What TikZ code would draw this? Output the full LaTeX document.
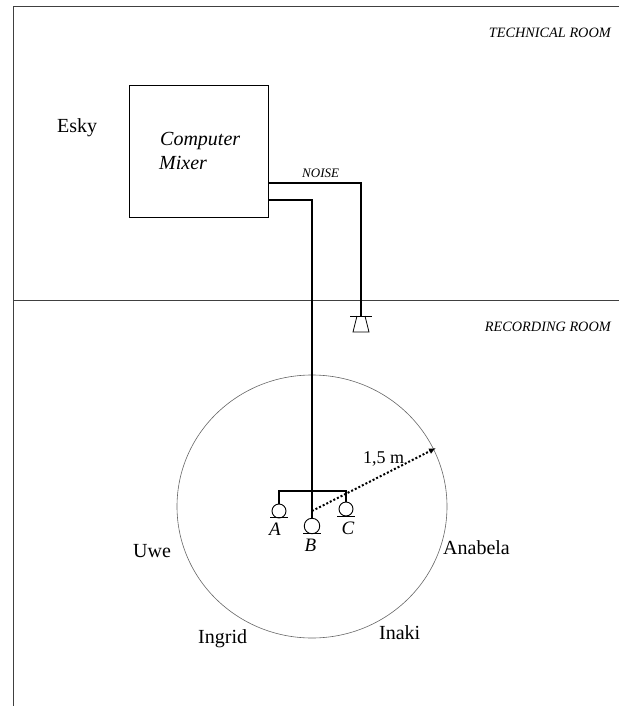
\documentclass[tikz,border=0pt]{standalone}
\usepackage{fontspec}
\setmainfont{Liberation Serif}
\usetikzlibrary{arrows.meta}
\tikzset{
  wall/.style={draw=black!75,line width=1pt},
  wire/.style={draw=black,line width=1.4pt},
  thinw/.style={draw=black,line width=1.2pt},
  lab/.style={inner sep=0pt,anchor=base west,font=\fontsize{20}{22}\selectfont},
  ilab/.style={inner sep=0pt,anchor=base west,font=\fontsize{20}{22}\selectfont\itshape},
  mlab/.style={inner sep=0pt,anchor=base,font=\fontsize{19}{21}\selectfont\itshape},
  room/.style={inner sep=0pt,anchor=base east,font=\fontsize{14.3}{16}\selectfont\itshape},
  mic/.style={circle,draw=black,line width=.9pt,minimum size=14pt,inner sep=0pt}
}
\begin{document}
\begin{tikzpicture}[x=1pt,y=-1pt]
\useasboundingbox (0,0) rectangle (619,706);
% room walls
\coordinate (tl) at (13,6.5); \coordinate (tr) at (619,6.5);
\coordinate (bl) at (13,706); \coordinate (ml) at (13,300); \coordinate (mr) at (619,300);
\draw[wall] (tr) -- (tl) -- (bl);
\draw[draw=black!75,line width=.8pt] (ml) -- (mr);
\node[room] (tech) at (611,37.5) {TECHNICAL ROOM};
\node[room] (rec) at (611,331) {RECORDING ROOM};
% mixer
\node[draw=black,line width=.9pt,minimum width=139pt,minimum height=132pt,inner sep=0pt] (mixer) at (198.5,151) {};
\node[ilab] (comp) at (160,146) {Computer};
\node[ilab] (mx) at (159,169) {Mixer};
\node[lab] (esky) at (57,132) {Esky};
% speaker
\coordinate (spk) at (361,316);
\coordinate (n1) at (268,183); \coordinate (n2) at (361,183);
\draw[wire] (n1) -- (n2) -- (spk);
\draw[line width=.9pt] (350,316) -- (372,316);
\draw[line width=.8pt] (357,316) -- (353,332) -- (369,332) -- (365,316);
\node[inner sep=0pt,anchor=base west,font=\fontsize{13}{15}\selectfont\itshape] (noise) at (302,177) {NOISE};
% circle
\draw[draw=black!60,line width=.6pt] (312,506.5) ellipse [x radius=135,y radius=131.5];
% mics
\node[mic] (A) at (279,511) {};
\node[mic,minimum size=15.5pt] (B) at (312,526) {};
\node[mic] (C) at (346,509) {};
\draw[line width=.9pt] (270,517.5) -- (288,517.5);
\draw[line width=.9pt] (303,533) -- (321,533);
\draw[line width=.9pt] (337,516.5) -- (355,516.5);
\coordinate (j) at (312,491); \coordinate (ja) at (279,491); \coordinate (jc) at (346,491);
\draw[thinw] (A) -- (ja) -- (jc) -- (C);
\coordinate (m1) at (268,200); \coordinate (m2) at (312,200);
\draw[wire] (m1) -- (m2) -- (B);
\node[mlab] (la) at (275,535) {A};
\node[mlab] (lb) at (310.5,551) {B};
\node[mlab] (lc) at (348,534) {C};
% radius
\coordinate (r0) at (312,511); \coordinate (r1) at (436,448);
\draw[line width=2pt,dash pattern=on 2pt off 2pt,-{Latex[length=7pt,width=6pt]}] (r0) -- (r1);
\node[lab,font=\fontsize{18}{20}\selectfont] (rad) at (363,463) {1,5 m};
% names
\node[lab] (uwe) at (133,557) {Uwe};
\node[lab] (ana) at (443,554) {Anabela};
\node[lab] (ing) at (198,643) {Ingrid};
\node[lab] (ina) at (379,639) {Inaki};
\end{tikzpicture}
\end{document}
